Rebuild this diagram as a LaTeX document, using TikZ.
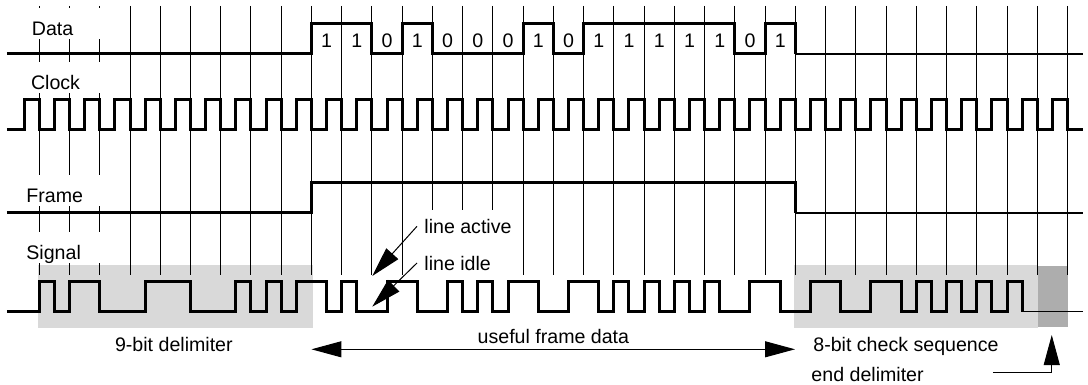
\documentclass[tikz,border=0pt]{standalone}
\usepackage{fontspec}
\setmainfont{Liberation Sans}
\usetikzlibrary{arrows.meta}

\begin{document}
\begin{tikzpicture}[x=15.12pt,y=-0.5pt,font=\fontsize{9.8}{11.8}\selectfont,
  wave/.style={line width=1.5pt},
  tail/.style={line width=0.8pt},
  gridline/.style={line width=0.5pt},
  lbl/.style={fill=white,anchor=west,text width=36pt,inner xsep=2pt,inner ysep=0pt,
    text height=14pt,text depth=1.5pt},
  note/.style={anchor=base west,inner xsep=3.5pt},
  ptr/.style={line width=0.5pt,-{Triangle[length=15pt,width=8pt]}},
  span/.style={line width=0.5pt,{Triangle[length=15pt,width=8pt]}-{Triangle[length=15pt,width=8pt]}}]
\useasboundingbox (-1.2996,0) rectangle (34.679,384);
% shaded delimiter fields
\fill[black!15] (-0.05,265) rectangle (9.04,328);
\fill[black!15] (24.96,265) rectangle (33.04,328);
\fill[black!32] (33.04,266) rectangle (34.01,327);
% bit cell grid
\foreach \k in {0,...,12} \draw[gridline] (\k,6) -- (\k,275);
\foreach \k in {13,14,15} \draw[gridline] (\k,6) -- (\k,210);
\foreach \k in {16,...,34} \draw[gridline] (\k,6) -- (\k,275);
% trace names
\node[lbl] (data) at (-0.39,23.5) {Data};
\node[lbl] (clock) at (-0.42,77.5) {Clock};
\node[lbl] (frame) at (-0.572,190.5) {Frame};
\node[lbl] (signal) at (-0.572,247) {Signal};
% Data
\draw[wave] (-1.07,54) -- (9,54) -- (9,24) -- (11,24) -- (11,54) -- (12,54) -- (12,24)
 -- (13,24) -- (13,54) -- (16,54) -- (16,24) -- (17,24) -- (17,54) -- (18,54) -- (18,24)
 -- (23,24) -- (23,54) -- (24,54) -- (24,24) -- (25,24) -- (25,54);
\draw[tail] (25,54) -- (34.51,54);
\foreach \b [count=\i from 9] in {1,1,0,1,0,0,0,1,0,1,1,1,1,1,0,1}
  \node[anchor=base] (bit\i) at (\i+0.5,47.3) {\b};
% Clock
\draw[wave] (-1.07,130) \foreach \k in {0,...,34} {
  -- ({\k-0.5},130) -- ({\k-0.5},100) -- (\k,100) -- (\k,130) } -- (34.51,130);
% Frame
\draw[wave] (-1.07,213) -- (9,213) -- (9,183) -- (25,183) -- (25,213);
\draw[tail] (25,213) -- (34.51,213);
% Signal
\draw[wave] (-1.07,311.5) \foreach \r/\f in {0/0.5,1/2,3.5/5,6.5/7,7.5/8,8.5/9.5,10/10.5,
  11.5/12.5,13.5/14,14.5/15,15.5/16.5,17.5/18.5,19/19.5,20/20.5,21/21.5,22/22.5,
  23.5/24.5,25.5/26.5,27.5/28.5,29/29.5,30/30.5,31/31.5,32/32.5} {
  -- (\r,311.5) -- (\r,281.5) -- (\f,281.5) -- (\f,311.5) };
\draw[tail] (32.5,311.5) -- (34.51,311.5);
% annotations
\node[note] (act) at (12.49,233.3) {line active};
\node[note] (idle) at (12.49,270) {line idle};
\coordinate (acttip) at (11.01,276);
\coordinate (idletip) at (11.01,306.7);
\draw[ptr] (act.west) -- (acttip);
\draw[ptr] (idle.west) -- (idletip);
\node[anchor=base] (delim) at (4.45,351.5) {9-bit delimiter};
\node[anchor=base] (useful) at (17,343.3) {useful frame data};
\coordinate (fstart) at (9,349.3);
\coordinate (fend) at (24.99,349.3);
\draw[span] (fstart) -- (fend);
\node[anchor=base] (check) at (28.66,351.7) {8-bit check sequence};
\node[anchor=base] (enddelim) at (27.39,381.7) {end delimiter};
\coordinate (edtail) at (31.53,372.7);
\coordinate (edtip) at (33.48,335);
\draw[ptr] (edtail) -| (edtip);
\end{tikzpicture}
\end{document}
